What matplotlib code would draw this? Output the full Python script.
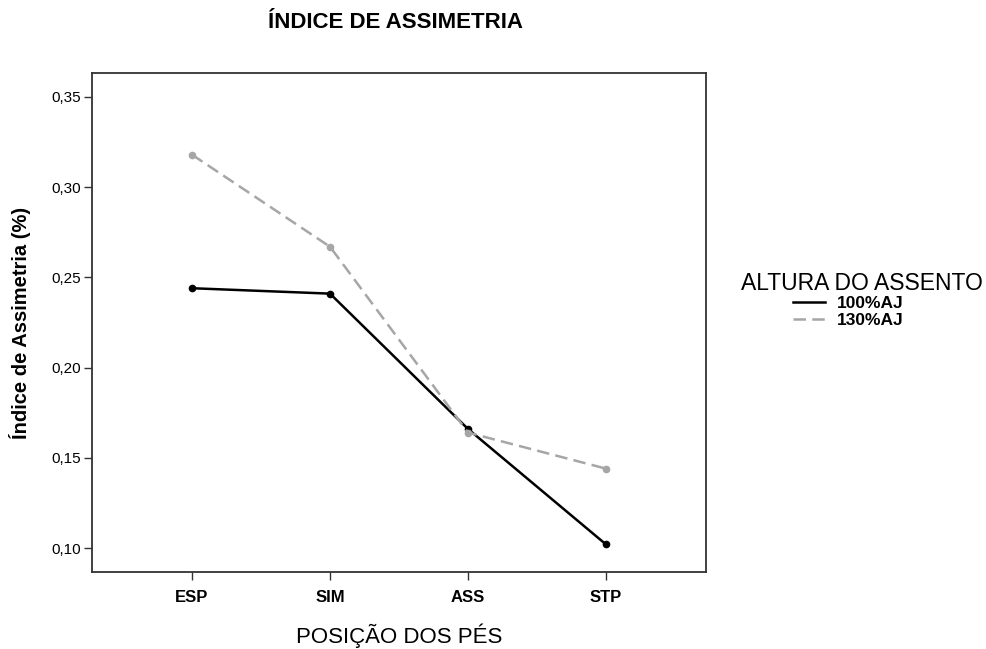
import matplotlib.pyplot as plt
from matplotlib.ticker import FuncFormatter

plt.rcParams['font.family'] = ['Liberation Sans', 'DejaVu Sans']

posicoes = ['ESP', 'SIM', 'ASS', 'STP']
altura_100 = [0.244, 0.241, 0.166, 0.102]
altura_130 = [0.318, 0.267, 0.164, 0.144]

fig = plt.figure(figsize=(9.87, 6.49), dpi=100)
ax = fig.add_axes([92 / 987, 1 - 572 / 649, (706 - 92) / 987, (572 - 73) / 649])

x = range(len(posicoes))
ax.plot(x, altura_100, color='black', lw=1.8, marker='o', ms=4.5, label='100%AJ')
ax.plot(x, altura_130, color='#a6a6a6', lw=1.8, ls=(0, (5, 2.5)), marker='o', ms=4.5,
        label='130%AJ')

ax.set_xlim(-0.725, 3.725)
ax.set_ylim(0.0867, 0.3633)
ax.set_xticks(list(x))
ax.set_xticklabels(posicoes, fontweight='bold', fontsize=12)
ax.set_yticks([0.10, 0.15, 0.20, 0.25, 0.30, 0.35])
ax.yaxis.set_major_formatter(FuncFormatter(lambda v, p: f'{v:.2f}'.replace('.', ',')))
ax.tick_params(axis='y', labelsize=11, length=6, width=1, color='#333333', pad=2)
ax.tick_params(axis='x', length=6, width=1, color='#333333', pad=7)
for s in ax.spines.values():
    s.set_linewidth(1.3)
    s.set_color('#333333')

ax.set_ylabel('Índice de Assimetria (%)', fontweight='bold', fontsize=14.5)
ax.yaxis.set_label_coords((20 - 92) / 614, 0.5)
ax.yaxis.label.set_verticalalignment('center')
ax.set_xlabel('POSIÇÃO DOS PÉS', fontsize=16)
ax.xaxis.set_label_coords(0.5, (572 - 636) / 499)
ax.xaxis.label.set_verticalalignment('center')
fig.text(396 / 987, 1 - 22 / 649, 'ÍNDICE DE ASSIMETRIA', ha='center', va='center',
         fontweight='bold', fontsize=16)

# legend title placed on its own, entries sit a bit left of its centre
fig.text(862 / 987, 1 - 283 / 649, 'ALTURA DO ASSENTO', ha='center', va='center', fontsize=16.5)
leg = fig.legend(loc='upper left', bbox_to_anchor=(793 / 987, 1 - 296 / 649), frameon=False,
                 handlelength=1.85, handletextpad=0.7, labelspacing=0.12, borderpad=0,
                 borderaxespad=0, prop={'weight': 'bold', 'size': 12.5})
for h in leg.legend_handles:
    h.set_marker('')

fig.savefig('out.png', dpi=100)
